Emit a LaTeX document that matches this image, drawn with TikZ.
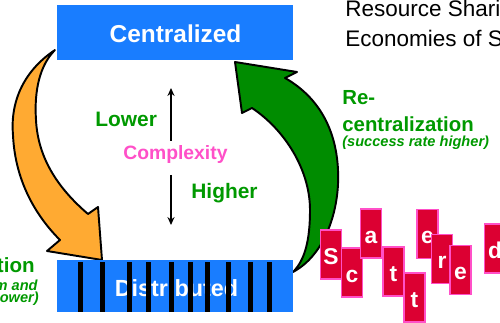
\documentclass[tikz,border=0pt]{standalone}
\usepackage{fontspec}
\setmainfont{Liberation Sans}
\usetikzlibrary{arrows.meta}
\definecolor{boxblue}{RGB}{25,125,255}
\definecolor{arroworange}{RGB}{255,170,50}
\definecolor{arrowgreen}{RGB}{0,140,0}
\definecolor{textgreen}{RGB}{0,153,0}
\definecolor{cpink}{RGB}{255,80,200}
\definecolor{crimson}{RGB}{220,0,50}
\begin{document}
\begin{tikzpicture}[x=0.02cm,y=-0.02cm,
  bluebox/.style={rectangle,fill=boxblue,draw=none,inner sep=0pt},
  boxtext/.style={text=white,font=\bfseries\fontsize{13.9pt}{16pt}\selectfont,inner sep=0pt,anchor=base},
  blockarrow/.style={draw=black,line width=1.1pt,line join=round},
  gtext/.style={text=textgreen,font=\bfseries\fontsize{11.6pt}{14pt}\selectfont,inner sep=0pt},
  gsmall/.style={text=textgreen,font=\bfseries\itshape\fontsize{8.3pt}{10pt}\selectfont,inner sep=0pt},
  lhtext/.style={text=textgreen,font=\bfseries\fontsize{11.9pt}{14pt}\selectfont,inner sep=0pt,anchor=base west},
  plain/.style={text=black,font=\fontsize{12.8pt}{15pt}\selectfont,inner sep=0pt,anchor=base west},
  vline/.style={draw=black,line width=0.75pt,-{Stealth[length=4.5pt,width=4pt]}},
  bar/.style={fill=black},
  letterbox/.style={rectangle,fill=crimson,draw=cpink,line width=1.1pt,
    minimum width=0.42cm,minimum height=0.98cm,inner sep=0pt,
    text=white,font=\bfseries\fontsize{13pt}{15pt}\selectfont,
    text height=11.3pt,text depth=0pt}
]
\useasboundingbox (0,0) rectangle (500,323);

% block arrows
\path[blockarrow,fill=arroworange] (55,50) .. controls (25,70) and (10,100) .. (13,135)
  .. controls (15,180) and (35,215) .. (60,240) -- (47,251) -- (102,260) -- (98,207) -- (88,214)
  .. controls (60,190) and (38,160) .. (36,120) .. controls (34,90) and (40,65) .. (55,50) -- cycle;
\path[blockarrow,fill=arrowgreen] (293,272) .. controls (325,255) and (340,210) .. (338,170)
  .. controls (336,125) and (315,95) .. (285,78) -- (297,72) -- (235,62) -- (242,113) -- (252,108)
  .. controls (285,130) and (310,170) .. (310,210) .. controls (310,240) and (305,260) .. (293,272) -- cycle;

% Centralized
\node[bluebox,minimum width=4.72cm,minimum height=1.1cm] (cent) at (175,32.5) {};
\node[boxtext] (centtxt) at (175.5,43) {Centralized};

% Distributed
\node[bluebox,minimum width=4.72cm,minimum height=1.04cm] (dist) at (175,286) {};
\node[boxtext,font=\bfseries\fontsize{13.3pt}{16pt}\selectfont] (disttxt) at (176.5,297) {Distributed};
\foreach \bx in {80.7,102.3,129,148.3,171.7,190,207.3,228.3,250.7,269.3}
  \fill[bar] (\bx-2.5,262) rectangle (\bx+2.5,312);

% top right text
\node[plain] (res1) at (345,17) {Resource Sharing};
\node[plain] (res2) at (345,47) {Economies of Scale};

% right labels
\node[gtext,anchor=base west] (re1) at (342,105) {Re-};
\node[gtext,anchor=base west] (re2) at (342,132) {centralization};
\node[gsmall,anchor=base west] (re3) at (342,146.5) {(success rate higher)};

% left labels (cut)
\node[gtext,anchor=base east,font=\bfseries\fontsize{11.7pt}{14pt}\selectfont] (de2) at (35,273) {tion};
\node[gsmall,anchor=base east] (de3) at (38,291) {m and};
\node[gsmall,anchor=base east] (de4) at (39,303) {lower)};

% complexity
\node[lhtext] (lower) at (95,127) {Lower};
\node[text=cpink,font=\bfseries\fontsize{11pt}{13pt}\selectfont,inner sep=0pt,anchor=base west] (cplx) at (123,160) {Complexity};
\node[lhtext] (higher) at (191,199) {Higher};
\coordinate (upS) at (171,141);
\coordinate (upE) at (171,88);
\coordinate (dnS) at (171,175);
\coordinate (dnE) at (171,225);
\draw[vline] (upS) -- (upE);
\draw[vline] (dnS) -- (dnE);

% scattered
\node[letterbox] (l1) at (331,254.5) {S};
\node[letterbox] (l2) at (352,272.5) {c};
\node[letterbox] (l3) at (371,233.5) {a};
\node[letterbox] (l4) at (393.5,271.5) {t};
\node[letterbox] (l5) at (414.5,297.5) {t};
\node[letterbox] (l6) at (427.5,234) {e};
\node[letterbox] (l7) at (442,259) {r};
\node[letterbox] (l8) at (460.5,270) {e};
\node[letterbox] (l9) at (495,248.5) {d};
\end{tikzpicture}
\end{document}
